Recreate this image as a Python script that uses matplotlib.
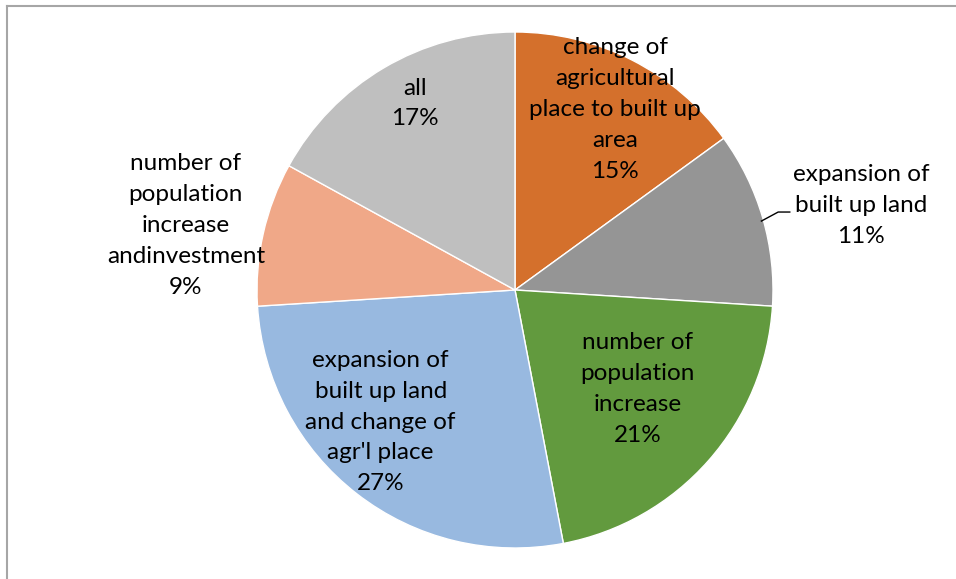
import numpy as np
import matplotlib
matplotlib.use("Agg")
import matplotlib.pyplot as plt
from matplotlib.lines import Line2D

# causes of land use change, share of responses (%)
labels = ["change of\nagricultural\nplace to built up\narea",
          "expansion of\nbuilt up land",
          "number of\npopulation\nincrease",
          "expansion of\nbuilt up land\nand change of\nagr'l place",
          "number of\npopulation\nincrease\nandinvestment",
          "all"]
shares = [15, 11, 21, 27, 9, 17]
colors = ["#D4702C", "#959595", "#629A3E", "#98B9E0", "#F0A888", "#BFBFBF"]

# where each label sits: distance from centre (radius units) and angle nudge (deg)
label_r = [0.80, 1.38, 0.61, 0.73, 1.30, 0.82]
label_nudge = [-2.0, -2.5, 2.4, -7.7, 1.5, -2.4]

W, H = 956, 579
fig = plt.figure(figsize=(W / 100, H / 100), dpi=100)
fig.patch.set_facecolor("white")

# chart frame: only top and left edges show
fig.add_artist(Line2D([6.5 / W, 6.5 / W], [0, 1 - 5.5 / H], transform=fig.transFigure,
                      color="#A6A6A6", lw=1.5))
fig.add_artist(Line2D([6.5 / W, 955 / W], [1 - 5.5 / H, 1 - 5.5 / H], transform=fig.transFigure,
                      color="#A6A6A6", lw=1.5))

R = 258
cx, cy = 515, 290
ax = fig.add_axes([(cx - R) / W, (H - cy - R) / H, 2 * R / W, 2 * R / H])
wedges, _ = ax.pie(shares, colors=colors, startangle=90, counterclock=False,
                   radius=1.0, wedgeprops=dict(edgecolor="white", linewidth=1.0))
ax.set_xlim(-1, 1)
ax.set_ylim(-1, 1)
ax.set_aspect("equal")
ax.axis("off")

font = dict(family=["Lato", "DejaVu Sans"], fontsize=17.5, color="black",
            ha="center", va="center", linespacing=1.58)
for w, lab, val, r, nd in zip(wedges, labels, shares, label_r, label_nudge):
    ang = np.deg2rad((w.theta1 + w.theta2) / 2 + nd)
    ax.text(r * np.cos(ang), r * np.sin(ang), f"{lab}\n{val}%", clip_on=False, **font)

# leader line for the small grey slice label
w = wedges[1]
a = np.deg2rad((w.theta1 + w.theta2) / 2 - 1.0)
ex, ey = np.cos(a), np.sin(a)
ax.plot([ex - 0.01, ex + 0.055, ex + 0.1], [ey + 0.005, ey + 0.04, ey + 0.04],
        color="black", lw=1.0, clip_on=False)

fig.savefig("out.png", dpi=100)
